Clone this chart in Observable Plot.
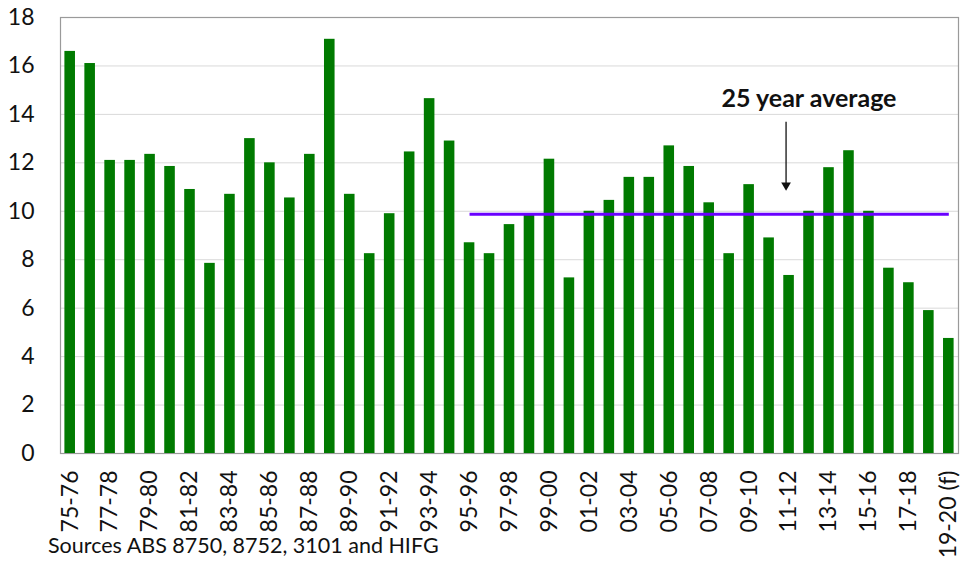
<!DOCTYPE html>
<html>
<head>
<meta charset="utf-8">
<script src="https://cdn.jsdelivr.net/npm/d3@7"></script>
<script src="https://cdn.jsdelivr.net/npm/@observablehq/plot@0.6"></script>
<style>
  html, body { margin: 0; padding: 0; background: #fff; }
  #wrap { position: relative; width: 962px; height: 562px; font-family: Lato, "Liberation Sans", sans-serif; }
  #caption { position: absolute; left: 48px; top: 532px; font-size: 21.5px; color: #111; white-space: nowrap; }
</style>
</head>
<body>
<div id="wrap"><div id="chart"></div><div id="caption">Sources ABS 8750, 8752, 3101 and HIFG</div></div>
<script>
const categories = ["75-76","76-77","77-78","78-79","79-80","80-81","81-82","82-83","83-84","84-85",
  "85-86","86-87","87-88","88-89","89-90","90-91","91-92","92-93","93-94","94-95",
  "95-96","96-97","97-98","98-99","99-00","00-01","01-02","02-03","03-04","04-05",
  "05-06","06-07","07-08","08-09","09-10","10-11","11-12","12-13","13-14","14-15",
  "15-16","16-17","17-18","18-19","19-20 (f)"];
const values = [16.6,16.1,12.1,12.1,12.35,11.85,10.9,7.85,10.7,13.0,
  12.0,10.55,12.35,17.1,10.7,8.25,9.9,12.45,14.65,12.9,
  8.7,8.25,9.45,9.85,12.15,7.25,10.0,10.45,11.4,11.4,
  12.7,11.85,10.35,8.25,11.1,8.9,7.35,10.0,11.8,12.5,
  10.0,7.65,7.05,5.9,4.75];
const xTickLabels = categories.filter((d, i) => i % 2 === 0);
const yTicks = [0,2,4,6,8,10,12,14,16,18];
const averageValue = 9.88;
const averageStart = "95-96";
const averageEnd = "19-20 (f)";
const annotationText = "25 year average";
const annotationTextPos = {x: "12-13", y: 14.65};
const arrowPos = {x: "11-12", y1: 13.7, y2: 10.95};

const bars = categories.map((c, i) => ({category: c, value: values[i]}));

const chart = Plot.plot({
  width: 962,
  height: 562,
  marginTop: 17,
  marginLeft: 60,
  marginRight: 4,
  marginBottom: 109,
  style: {fontFamily: "Lato, 'Liberation Sans', sans-serif", fontSize: "23px", color: "#111", background: "#fff"},
  x: {domain: categories, paddingInner: 0.47, paddingOuter: 0.22, label: null},
  y: {domain: [0, 18], label: null},
  marks: [
    Plot.gridY(yTicks, {stroke: "#d9d9d9", strokeOpacity: 1}),
    Plot.frame({stroke: "#9a9a9a", strokeWidth: 1.2}),
    Plot.barY(bars, {x: "category", y: "value", fill: "#007a00"}),
    Plot.link([{x1: averageStart, x2: averageEnd, y: averageValue}], {x1: "x1", x2: "x2", y1: "y", y2: "y", stroke: "#6a00ff", strokeWidth: 3}),
    Plot.link([arrowPos], {x: "x", y1: "y1", y2: "y2", stroke: "#111", strokeWidth: 1.3, dx: -3}),
    Plot.dot([arrowPos], {x: "x", y: "y2", symbol: "triangle", r: 3.6, fill: "#111", rotate: 180, dx: -3, dy: -3}),
    Plot.text([annotationTextPos], {x: "x", y: "y", text: () => annotationText, fontWeight: "bold", fontSize: 25, fill: "#111"}),
    Plot.axisY(yTicks, {tickSize: 0, tickPadding: 26, fontSize: 23, fill: "#111"}),
    Plot.axisX(xTickLabels, {tickSize: 0, tickPadding: 17, tickRotate: -90, fontSize: 23, fill: "#111"})
  ]
});
document.getElementById("chart").appendChild(chart);
</script>
</body>
</html>
